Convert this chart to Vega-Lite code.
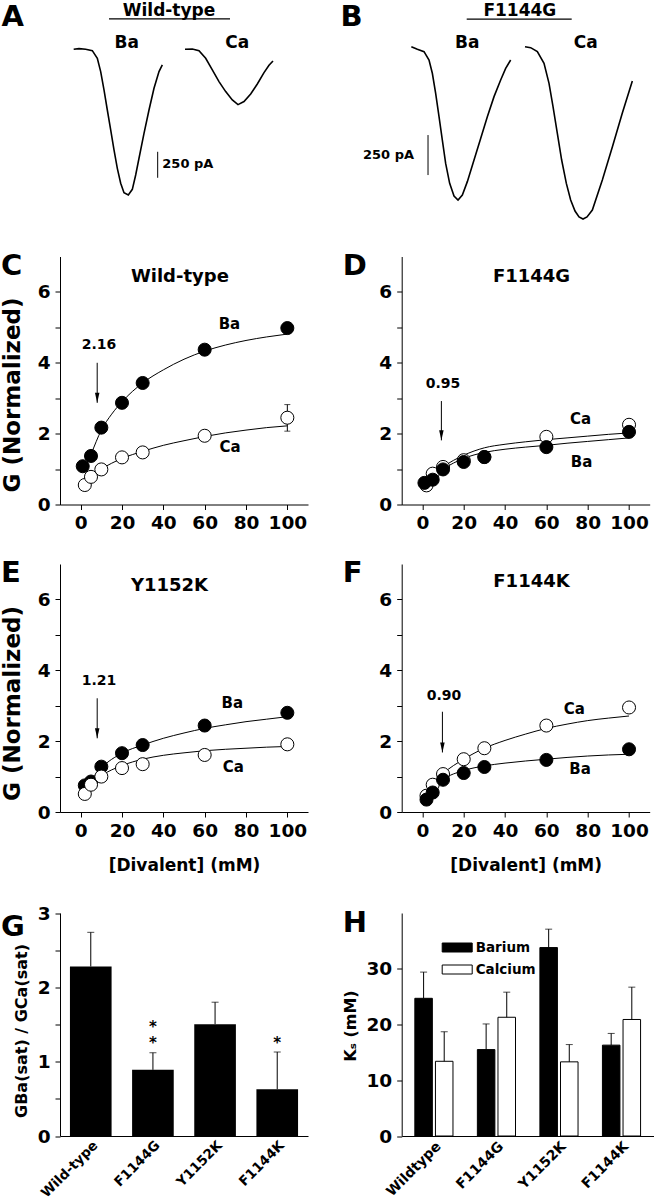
{
  "$schema": "https://vega.github.io/schema/vega-lite/v6.json",
  "background": "white",
  "padding": {"left": 1, "top": 0, "right": 0, "bottom": 0},
  "bounds": "flush",
  "align": "each",
  "columns": 2,
  "spacing": {"row": 59.5, "column": 93.7},
  "resolve": {"scale": {"fill": "independent"}, "legend": {"fill": "independent"}},
  "config": {
    "font": "DejaVu Sans",
    "view": {"stroke": null},
    "axis": {"labelFont": "DejaVu Sans", "titleFont": "DejaVu Sans", "labelFontWeight": "bold", "titleFontWeight": "bold", "labelColor": "black", "titleColor": "black", "domainColor": "black", "tickColor": "black", "labelFontSize": 18.5, "grid": false, "tickSize": 5, "domainWidth": 1, "tickWidth": 1},
    "title": {"font": "DejaVu Sans", "fontSize": 29, "fontWeight": "bold", "color": "black", "anchor": "start", "frame": "group", "offset": 0},
    "text": {"font": "DejaVu Sans", "fontWeight": "bold", "color": "black"}
  },
  "datasets": {
    "traces": [
      {"p": "A", "ion": "Ba", "t": 3.42, "i": -4}, {"p": "A", "ion": "Ba", "t": 4.75, "i": 2}, {"p": "A", "ion": "Ba", "t": 6.42, "i": -4}, {"p": "A", "ion": "Ba", "t": 8.08, "i": -17}, {"p": "A", "ion": "Ba", "t": 9.33, "i": -91}, {"p": "A", "ion": "Ba", "t": 10.17, "i": -219}, {"p": "A", "ion": "Ba", "t": 11.0, "i": -395}, {"p": "A", "ion": "Ba", "t": 11.83, "i": -588}, {"p": "A", "ion": "Ba", "t": 12.67, "i": -780}, {"p": "A", "ion": "Ba", "t": 13.5, "i": -972}, {"p": "A", "ion": "Ba", "t": 14.33, "i": -1149}, {"p": "A", "ion": "Ba", "t": 15.17, "i": -1293}, {"p": "A", "ion": "Ba", "t": 16.0, "i": -1383}, {"p": "A", "ion": "Ba", "t": 17.08, "i": -1405}, {"p": "A", "ion": "Ba", "t": 18.08, "i": -1351}, {"p": "A", "ion": "Ba", "t": 18.92, "i": -1213}, {"p": "A", "ion": "Ba", "t": 19.75, "i": -1052}, {"p": "A", "ion": "Ba", "t": 21.0, "i": -812}, {"p": "A", "ion": "Ba", "t": 22.25, "i": -588}, {"p": "A", "ion": "Ba", "t": 23.5, "i": -379}, {"p": "A", "ion": "Ba", "t": 24.75, "i": -219}, {"p": "A", "ion": "Ba", "t": 25.58, "i": -155},
      {"p": "A", "ion": "Ca", "t": 31.25, "i": -4}, {"p": "A", "ion": "Ca", "t": 33.08, "i": -1}, {"p": "A", "ion": "Ca", "t": 34.75, "i": -17}, {"p": "A", "ion": "Ca", "t": 36.42, "i": -91}, {"p": "A", "ion": "Ca", "t": 38.08, "i": -203}, {"p": "A", "ion": "Ca", "t": 39.75, "i": -315}, {"p": "A", "ion": "Ca", "t": 41.42, "i": -411}, {"p": "A", "ion": "Ca", "t": 43.08, "i": -491}, {"p": "A", "ion": "Ca", "t": 44.5, "i": -536}, {"p": "A", "ion": "Ca", "t": 46.0, "i": -507}, {"p": "A", "ion": "Ca", "t": 47.67, "i": -434}, {"p": "A", "ion": "Ca", "t": 49.33, "i": -338}, {"p": "A", "ion": "Ca", "t": 51.0, "i": -229}, {"p": "A", "ion": "Ca", "t": 52.25, "i": -158}, {"p": "A", "ion": "Ca", "t": 53.25, "i": -116},
      {"p": "B", "ion": "Ba", "t": 2.41, "i": 8}, {"p": "B", "ion": "Ba", "t": 3.91, "i": -8}, {"p": "B", "ion": "Ba", "t": 5.58, "i": -23}, {"p": "B", "ion": "Ba", "t": 6.83, "i": -75}, {"p": "B", "ion": "Ba", "t": 7.66, "i": -158}, {"p": "B", "ion": "Ba", "t": 8.49, "i": -283}, {"p": "B", "ion": "Ba", "t": 9.33, "i": -429}, {"p": "B", "ion": "Ba", "t": 10.16, "i": -575}, {"p": "B", "ion": "Ba", "t": 10.99, "i": -721}, {"p": "B", "ion": "Ba", "t": 11.99, "i": -846}, {"p": "B", "ion": "Ba", "t": 13.08, "i": -925}, {"p": "B", "ion": "Ba", "t": 14.08, "i": -950}, {"p": "B", "ion": "Ba", "t": 15.16, "i": -919}, {"p": "B", "ion": "Ba", "t": 16.41, "i": -835}, {"p": "B", "ion": "Ba", "t": 18.08, "i": -700}, {"p": "B", "ion": "Ba", "t": 19.74, "i": -565}, {"p": "B", "ion": "Ba", "t": 21.41, "i": -429}, {"p": "B", "ion": "Ba", "t": 23.08, "i": -304}, {"p": "B", "ion": "Ba", "t": 24.74, "i": -200}, {"p": "B", "ion": "Ba", "t": 25.99, "i": -127}, {"p": "B", "ion": "Ba", "t": 27.24, "i": -75},
      {"p": "B", "ion": "Ca", "t": 30.83, "i": 8}, {"p": "B", "ion": "Ca", "t": 32.24, "i": 2}, {"p": "B", "ion": "Ca", "t": 33.91, "i": -23}, {"p": "B", "ion": "Ca", "t": 35.58, "i": -96}, {"p": "B", "ion": "Ca", "t": 36.83, "i": -221}, {"p": "B", "ion": "Ca", "t": 37.83, "i": -367}, {"p": "B", "ion": "Ca", "t": 38.91, "i": -533}, {"p": "B", "ion": "Ca", "t": 39.99, "i": -700}, {"p": "B", "ion": "Ca", "t": 41.16, "i": -846}, {"p": "B", "ion": "Ca", "t": 42.24, "i": -950}, {"p": "B", "ion": "Ca", "t": 43.33, "i": -1019}, {"p": "B", "ion": "Ca", "t": 44.33, "i": -1056}, {"p": "B", "ion": "Ca", "t": 45.33, "i": -1069}, {"p": "B", "ion": "Ca", "t": 46.33, "i": -1056}, {"p": "B", "ion": "Ca", "t": 47.66, "i": -1013}, {"p": "B", "ion": "Ca", "t": 50.16, "i": -825}, {"p": "B", "ion": "Ca", "t": 52.66, "i": -619}, {"p": "B", "ion": "Ca", "t": 55.16, "i": -406}, {"p": "B", "ion": "Ca", "t": 57.66, "i": -206}
    ],
    "tx": [
      {"p": "A", "kind": "letter", "x": -11.8, "y": 310, "label": "A"},
      {"p": "A", "kind": "head", "x": 27.25, "y": 367, "label": "Wild-type"},
      {"p": "A", "kind": "ion", "x": 16.67, "y": 54, "label": "Ba"},
      {"p": "A", "kind": "ion", "x": 44.33, "y": 54, "label": "Ca"},
      {"p": "A", "kind": "scaleL", "x": 25.58, "y": -1110, "label": "250 pA"},
      {"p": "B", "kind": "letter", "x": -12.55, "y": 196, "label": "B"},
      {"p": "B", "kind": "head", "x": 29.53, "y": 231, "label": "F1144G"},
      {"p": "B", "kind": "ion", "x": 16.4, "y": 29, "label": "Ba"},
      {"p": "B", "kind": "ion", "x": 46.0, "y": 29, "label": "Ca"},
      {"p": "B", "kind": "scaleR", "x": 3.08, "y": -669, "label": "250 pA"}
    ],
    "hl": [
      {"p": "A", "x1": 12.25, "x2": 42.5, "y": 288},
      {"p": "B", "x1": 16.25, "x2": 42.5, "y": 181}
    ],
    "vl": [
      {"p": "A", "x": 24.42, "y1": -990, "y2": -1240},
      {"p": "B", "x": 6.58, "y1": -544, "y2": -794}
    ],
    "pts": [
      {"p": "C", "ion": "Ba", "conc": 1, "G": 1.08}, {"p": "C", "ion": "Ba", "conc": 5, "G": 1.37}, {"p": "C", "ion": "Ba", "conc": 10, "G": 2.17}, {"p": "C", "ion": "Ba", "conc": 20, "G": 2.87}, {"p": "C", "ion": "Ba", "conc": 30, "G": 3.43}, {"p": "C", "ion": "Ba", "conc": 60, "G": 4.37}, {"p": "C", "ion": "Ba", "conc": 100, "G": 4.98},
      {"p": "C", "ion": "Ca", "conc": 2, "G": 0.55}, {"p": "C", "ion": "Ca", "conc": 5, "G": 0.78}, {"p": "C", "ion": "Ca", "conc": 10, "G": 0.99}, {"p": "C", "ion": "Ca", "conc": 20, "G": 1.33}, {"p": "C", "ion": "Ca", "conc": 30, "G": 1.47}, {"p": "C", "ion": "Ca", "conc": 60, "G": 1.94}, {"p": "C", "ion": "Ca", "conc": 100, "G": 2.45},
      {"p": "D", "ion": "Ca", "conc": 2, "G": 0.54}, {"p": "D", "ion": "Ca", "conc": 5, "G": 0.87}, {"p": "D", "ion": "Ca", "conc": 10, "G": 1.06}, {"p": "D", "ion": "Ca", "conc": 20, "G": 1.25}, {"p": "D", "ion": "Ca", "conc": 30, "G": 1.34}, {"p": "D", "ion": "Ca", "conc": 60, "G": 1.91}, {"p": "D", "ion": "Ca", "conc": 100, "G": 2.25},
      {"p": "D", "ion": "Ba", "conc": 1, "G": 0.61}, {"p": "D", "ion": "Ba", "conc": 5, "G": 0.7}, {"p": "D", "ion": "Ba", "conc": 10, "G": 0.99}, {"p": "D", "ion": "Ba", "conc": 20, "G": 1.2}, {"p": "D", "ion": "Ba", "conc": 30, "G": 1.34}, {"p": "D", "ion": "Ba", "conc": 60, "G": 1.62}, {"p": "D", "ion": "Ba", "conc": 100, "G": 2.05},
      {"p": "E", "ion": "Ba", "conc": 2, "G": 0.75}, {"p": "E", "ion": "Ba", "conc": 5, "G": 0.86}, {"p": "E", "ion": "Ba", "conc": 10, "G": 1.28}, {"p": "E", "ion": "Ba", "conc": 20, "G": 1.66}, {"p": "E", "ion": "Ba", "conc": 30, "G": 1.89}, {"p": "E", "ion": "Ba", "conc": 60, "G": 2.44}, {"p": "E", "ion": "Ba", "conc": 100, "G": 2.8},
      {"p": "E", "ion": "Ca", "conc": 2, "G": 0.51}, {"p": "E", "ion": "Ca", "conc": 5, "G": 0.77}, {"p": "E", "ion": "Ca", "conc": 10, "G": 1.0}, {"p": "E", "ion": "Ca", "conc": 20, "G": 1.24}, {"p": "E", "ion": "Ca", "conc": 30, "G": 1.35}, {"p": "E", "ion": "Ca", "conc": 60, "G": 1.61}, {"p": "E", "ion": "Ca", "conc": 100, "G": 1.91},
      {"p": "F", "ion": "Ca", "conc": 2, "G": 0.46}, {"p": "F", "ion": "Ca", "conc": 5, "G": 0.77}, {"p": "F", "ion": "Ca", "conc": 10, "G": 1.07}, {"p": "F", "ion": "Ca", "conc": 20, "G": 1.49}, {"p": "F", "ion": "Ca", "conc": 30, "G": 1.8}, {"p": "F", "ion": "Ca", "conc": 60, "G": 2.44}, {"p": "F", "ion": "Ca", "conc": 100, "G": 2.95},
      {"p": "F", "ion": "Ba", "conc": 2, "G": 0.35}, {"p": "F", "ion": "Ba", "conc": 5, "G": 0.55}, {"p": "F", "ion": "Ba", "conc": 10, "G": 0.91}, {"p": "F", "ion": "Ba", "conc": 20, "G": 1.1}, {"p": "F", "ion": "Ba", "conc": 30, "G": 1.27}, {"p": "F", "ion": "Ba", "conc": 60, "G": 1.47}, {"p": "F", "ion": "Ba", "conc": 100, "G": 1.77}
    ],
    "fit": [
      {"p": "C", "ion": "Ba", "conc": 2, "G": 1.02}, {"p": "C", "ion": "Ba", "conc": 5, "G": 1.42}, {"p": "C", "ion": "Ba", "conc": 10, "G": 2.1}, {"p": "C", "ion": "Ba", "conc": 15, "G": 2.55}, {"p": "C", "ion": "Ba", "conc": 20, "G": 2.9}, {"p": "C", "ion": "Ba", "conc": 30, "G": 3.43}, {"p": "C", "ion": "Ba", "conc": 40, "G": 3.8}, {"p": "C", "ion": "Ba", "conc": 50, "G": 4.1}, {"p": "C", "ion": "Ba", "conc": 60, "G": 4.33}, {"p": "C", "ion": "Ba", "conc": 70, "G": 4.5}, {"p": "C", "ion": "Ba", "conc": 80, "G": 4.63}, {"p": "C", "ion": "Ba", "conc": 90, "G": 4.73}, {"p": "C", "ion": "Ba", "conc": 100, "G": 4.81},
      {"p": "C", "ion": "Ca", "conc": 2, "G": 0.6}, {"p": "C", "ion": "Ca", "conc": 5, "G": 0.8}, {"p": "C", "ion": "Ca", "conc": 10, "G": 1.0}, {"p": "C", "ion": "Ca", "conc": 20, "G": 1.3}, {"p": "C", "ion": "Ca", "conc": 30, "G": 1.5}, {"p": "C", "ion": "Ca", "conc": 40, "G": 1.67}, {"p": "C", "ion": "Ca", "conc": 50, "G": 1.8}, {"p": "C", "ion": "Ca", "conc": 60, "G": 1.92}, {"p": "C", "ion": "Ca", "conc": 70, "G": 2.02}, {"p": "C", "ion": "Ca", "conc": 80, "G": 2.1}, {"p": "C", "ion": "Ca", "conc": 90, "G": 2.17}, {"p": "C", "ion": "Ca", "conc": 100, "G": 2.22},
      {"p": "D", "ion": "Ca", "conc": 2, "G": 0.59}, {"p": "D", "ion": "Ca", "conc": 5, "G": 0.83}, {"p": "D", "ion": "Ca", "conc": 10, "G": 1.06}, {"p": "D", "ion": "Ca", "conc": 20, "G": 1.39}, {"p": "D", "ion": "Ca", "conc": 30, "G": 1.6}, {"p": "D", "ion": "Ca", "conc": 40, "G": 1.7}, {"p": "D", "ion": "Ca", "conc": 50, "G": 1.77}, {"p": "D", "ion": "Ca", "conc": 60, "G": 1.83}, {"p": "D", "ion": "Ca", "conc": 70, "G": 1.88}, {"p": "D", "ion": "Ca", "conc": 80, "G": 1.93}, {"p": "D", "ion": "Ca", "conc": 90, "G": 1.98}, {"p": "D", "ion": "Ca", "conc": 100, "G": 2.02},
      {"p": "D", "ion": "Ba", "conc": 2, "G": 0.55}, {"p": "D", "ion": "Ba", "conc": 5, "G": 0.75}, {"p": "D", "ion": "Ba", "conc": 10, "G": 0.99}, {"p": "D", "ion": "Ba", "conc": 20, "G": 1.3}, {"p": "D", "ion": "Ba", "conc": 30, "G": 1.47}, {"p": "D", "ion": "Ba", "conc": 40, "G": 1.56}, {"p": "D", "ion": "Ba", "conc": 50, "G": 1.62}, {"p": "D", "ion": "Ba", "conc": 60, "G": 1.67}, {"p": "D", "ion": "Ba", "conc": 70, "G": 1.73}, {"p": "D", "ion": "Ba", "conc": 80, "G": 1.78}, {"p": "D", "ion": "Ba", "conc": 90, "G": 1.83}, {"p": "D", "ion": "Ba", "conc": 100, "G": 1.88},
      {"p": "E", "ion": "Ba", "conc": 2, "G": 0.63}, {"p": "E", "ion": "Ba", "conc": 5, "G": 0.88}, {"p": "E", "ion": "Ba", "conc": 10, "G": 1.24}, {"p": "E", "ion": "Ba", "conc": 20, "G": 1.66}, {"p": "E", "ion": "Ba", "conc": 30, "G": 1.89}, {"p": "E", "ion": "Ba", "conc": 40, "G": 2.08}, {"p": "E", "ion": "Ba", "conc": 50, "G": 2.23}, {"p": "E", "ion": "Ba", "conc": 60, "G": 2.36}, {"p": "E", "ion": "Ba", "conc": 70, "G": 2.46}, {"p": "E", "ion": "Ba", "conc": 80, "G": 2.55}, {"p": "E", "ion": "Ba", "conc": 90, "G": 2.62}, {"p": "E", "ion": "Ba", "conc": 100, "G": 2.69},
      {"p": "E", "ion": "Ca", "conc": 2, "G": 0.51}, {"p": "E", "ion": "Ca", "conc": 5, "G": 0.77}, {"p": "E", "ion": "Ca", "conc": 10, "G": 1.02}, {"p": "E", "ion": "Ca", "conc": 20, "G": 1.31}, {"p": "E", "ion": "Ca", "conc": 30, "G": 1.49}, {"p": "E", "ion": "Ca", "conc": 40, "G": 1.6}, {"p": "E", "ion": "Ca", "conc": 50, "G": 1.67}, {"p": "E", "ion": "Ca", "conc": 60, "G": 1.73}, {"p": "E", "ion": "Ca", "conc": 70, "G": 1.77}, {"p": "E", "ion": "Ca", "conc": 80, "G": 1.8}, {"p": "E", "ion": "Ca", "conc": 90, "G": 1.83}, {"p": "E", "ion": "Ca", "conc": 100, "G": 1.85},
      {"p": "F", "ion": "Ca", "conc": 2, "G": 0.55}, {"p": "F", "ion": "Ca", "conc": 5, "G": 0.77}, {"p": "F", "ion": "Ca", "conc": 10, "G": 1.08}, {"p": "F", "ion": "Ca", "conc": 20, "G": 1.49}, {"p": "F", "ion": "Ca", "conc": 30, "G": 1.8}, {"p": "F", "ion": "Ca", "conc": 40, "G": 2.02}, {"p": "F", "ion": "Ca", "conc": 50, "G": 2.2}, {"p": "F", "ion": "Ca", "conc": 60, "G": 2.36}, {"p": "F", "ion": "Ca", "conc": 70, "G": 2.48}, {"p": "F", "ion": "Ca", "conc": 80, "G": 2.58}, {"p": "F", "ion": "Ca", "conc": 90, "G": 2.65}, {"p": "F", "ion": "Ca", "conc": 100, "G": 2.71},
      {"p": "F", "ion": "Ba", "conc": 2, "G": 0.42}, {"p": "F", "ion": "Ba", "conc": 5, "G": 0.63}, {"p": "F", "ion": "Ba", "conc": 10, "G": 0.91}, {"p": "F", "ion": "Ba", "conc": 20, "G": 1.17}, {"p": "F", "ion": "Ba", "conc": 30, "G": 1.3}, {"p": "F", "ion": "Ba", "conc": 40, "G": 1.38}, {"p": "F", "ion": "Ba", "conc": 50, "G": 1.44}, {"p": "F", "ion": "Ba", "conc": 60, "G": 1.49}, {"p": "F", "ion": "Ba", "conc": 70, "G": 1.54}, {"p": "F", "ion": "Ba", "conc": 80, "G": 1.58}, {"p": "F", "ion": "Ba", "conc": 90, "G": 1.61}, {"p": "F", "ion": "Ba", "conc": 100, "G": 1.63}
    ],
    "ann": [
      {"p": "C", "kind": "title", "x": 48, "y": 6.42, "label": "Wild-type"}, {"p": "C", "kind": "ion", "x": 72, "y": 5.09, "label": "Ba"}, {"p": "C", "kind": "ion", "x": 72.3, "y": 1.61, "label": "Ca"}, {"p": "C", "kind": "num", "x": 8.9, "y": 4.5, "label": "2.16"},
      {"p": "D", "kind": "title", "x": 52.8, "y": 6.41, "label": "F1144G"}, {"p": "D", "kind": "ion", "x": 76.6, "y": 2.42, "label": "Ca"}, {"p": "D", "kind": "ion", "x": 77, "y": 1.2, "label": "Ba"}, {"p": "D", "kind": "num", "x": 10, "y": 3.41, "label": "0.95"},
      {"p": "E", "kind": "title", "x": 43, "y": 6.39, "label": "Y1152K"}, {"p": "E", "kind": "ion", "x": 73.4, "y": 3.07, "label": "Ba"}, {"p": "E", "kind": "ion", "x": 73.9, "y": 1.27, "label": "Ca"}, {"p": "E", "kind": "num", "x": 8.9, "y": 3.7, "label": "1.21"},
      {"p": "F", "kind": "title", "x": 52.8, "y": 6.49, "label": "F1144K"}, {"p": "F", "kind": "ion", "x": 73.5, "y": 2.9, "label": "Ca"}, {"p": "F", "kind": "ion", "x": 76.3, "y": 1.21, "label": "Ba"}, {"p": "F", "kind": "num", "x": 10.5, "y": 3.28, "label": "0.90"}
    ],
    "arr": [
      {"p": "C", "x": 8, "y1": 4.0, "y2": 2.87},
      {"p": "D", "x": 9.2, "y1": 2.92, "y2": 1.81},
      {"p": "E", "x": 8, "y1": 3.21, "y2": 2.08},
      {"p": "F", "x": 9.7, "y1": 2.83, "y2": 1.68}
    ],
    "err": [{"p": "C", "conc": 100, "lo": 2.07, "hi": 2.82}],
    "ratio": [
      {"mutant": "Wild-type", "r": 2.28, "hi": 2.74},
      {"mutant": "F1144G", "r": 0.89, "hi": 1.12},
      {"mutant": "Y1152K", "r": 1.505, "hi": 1.8},
      {"mutant": "F1144K", "r": 0.63, "hi": 1.13}
    ],
    "stars": [
      {"mutant": "F1144G", "y": 1.47}, {"mutant": "F1144G", "y": 1.25}, {"mutant": "F1144K", "y": 1.25}
    ],
    "ks": [
      {"mutant": "Wildtype", "ion": "Barium", "k": 24.7, "hi": 29.4}, {"mutant": "Wildtype", "ion": "Calcium", "k": 13.4, "hi": 18.7},
      {"mutant": "F1144G", "ion": "Barium", "k": 15.5, "hi": 20.1}, {"mutant": "F1144G", "ion": "Calcium", "k": 21.3, "hi": 25.8},
      {"mutant": "Y1152K", "ion": "Barium", "k": 33.8, "hi": 37.1}, {"mutant": "Y1152K", "ion": "Calcium", "k": 13.3, "hi": 16.4},
      {"mutant": "F1144K", "ion": "Barium", "k": 16.3, "hi": 18.4}, {"mutant": "F1144K", "ion": "Calcium", "k": 20.9, "hi": 26.7}
    ]
  },
  "concat": [
    {
      "width": 248, "height": 196.5,
      "layer": [
        {"data": {"name": "traces"}, "transform": [{"filter": "datum.p === 'A'"}], "mark": {"type": "line", "color": "black", "strokeWidth": 1.6}, "encoding": {"x": {"field": "t", "type": "quantitative", "scale": {"domain": [0, 62], "nice": false, "zero": false}, "axis": null}, "y": {"field": "i", "type": "quantitative", "scale": {"domain": [-1420, 470], "nice": false, "zero": false}, "axis": null}, "detail": {"field": "ion"}}},
        {"data": {"name": "vl"}, "transform": [{"filter": "datum.p === 'A'"}], "mark": {"type": "rule", "color": "black", "strokeWidth": 1}, "encoding": {"x": {"field": "x", "type": "quantitative"}, "y": {"field": "y1", "type": "quantitative"}, "y2": {"field": "y2"}}},
        {"data": {"name": "hl"}, "transform": [{"filter": "datum.p === 'A'"}], "mark": {"type": "rule", "color": "black", "strokeWidth": 1.2}, "encoding": {"x": {"field": "x1", "type": "quantitative"}, "x2": {"field": "x2"}, "y": {"field": "y", "type": "quantitative"}}},
        {"data": {"name": "tx"}, "transform": [{"filter": "datum.p === 'A' && datum.kind === 'letter'"}], "mark": {"type": "text", "fontSize": 29}, "encoding": {"x": {"field": "x", "type": "quantitative"}, "y": {"field": "y", "type": "quantitative"}, "text": {"field": "label"}}},
        {"data": {"name": "tx"}, "transform": [{"filter": "datum.p === 'A' && (datum.kind === 'head' || datum.kind === 'ion')"}], "mark": {"type": "text", "fontSize": 17}, "encoding": {"x": {"field": "x", "type": "quantitative"}, "y": {"field": "y", "type": "quantitative"}, "text": {"field": "label"}}},
        {"data": {"name": "tx"}, "transform": [{"filter": "datum.p === 'A' && datum.kind === 'scaleL'"}], "mark": {"type": "text", "fontSize": 13, "align": "left"}, "encoding": {"x": {"field": "x", "type": "quantitative"}, "y": {"field": "y", "type": "quantitative"}, "text": {"field": "label"}}}
      ]
    },
    {
      "width": 248, "height": 196.5,
      "layer": [
        {"data": {"name": "traces"}, "transform": [{"filter": "datum.p === 'B'"}], "mark": {"type": "line", "color": "black", "strokeWidth": 1.6}, "encoding": {"x": {"field": "t", "type": "quantitative", "scale": {"domain": [0, 62], "nice": false, "zero": false}, "axis": null}, "y": {"field": "i", "type": "quantitative", "scale": {"domain": [-928, 300], "nice": false, "zero": false}, "axis": null}, "detail": {"field": "ion"}}},
        {"data": {"name": "vl"}, "transform": [{"filter": "datum.p === 'B'"}], "mark": {"type": "rule", "color": "black", "strokeWidth": 1}, "encoding": {"x": {"field": "x", "type": "quantitative"}, "y": {"field": "y1", "type": "quantitative"}, "y2": {"field": "y2"}}},
        {"data": {"name": "hl"}, "transform": [{"filter": "datum.p === 'B'"}], "mark": {"type": "rule", "color": "black", "strokeWidth": 1.2}, "encoding": {"x": {"field": "x1", "type": "quantitative"}, "x2": {"field": "x2"}, "y": {"field": "y", "type": "quantitative"}}},
        {"data": {"name": "tx"}, "transform": [{"filter": "datum.p === 'B' && datum.kind === 'letter'"}], "mark": {"type": "text", "fontSize": 29}, "encoding": {"x": {"field": "x", "type": "quantitative"}, "y": {"field": "y", "type": "quantitative"}, "text": {"field": "label"}}},
        {"data": {"name": "tx"}, "transform": [{"filter": "datum.p === 'B' && (datum.kind === 'head' || datum.kind === 'ion')"}], "mark": {"type": "text", "fontSize": 17}, "encoding": {"x": {"field": "x", "type": "quantitative"}, "y": {"field": "y", "type": "quantitative"}, "text": {"field": "label"}}},
        {"data": {"name": "tx"}, "transform": [{"filter": "datum.p === 'B' && datum.kind === 'scaleR'"}], "mark": {"type": "text", "fontSize": 13, "align": "right"}, "encoding": {"x": {"field": "x", "type": "quantitative"}, "y": {"field": "y", "type": "quantitative"}, "text": {"field": "label"}}}
      ]
    },
    {
      "width": 248, "height": 248,
      "title": {"text": "C", "dx": -59, "dy": 28},
      "layer": [
        {"data": {"name": "fit"}, "transform": [{"filter": "datum.p === 'C'"}], "mark": {"type": "line", "interpolate": "monotone", "color": "black", "strokeWidth": 1}, "encoding": {
          "x": {"field": "conc", "type": "quantitative", "scale": {"domain": [-10, 110], "nice": false, "zero": false}, "axis": {"values": [0, 10, 20, 30, 40, 50, 60, 70, 80, 90, 100], "labelExpr": "datum.value % 20 === 0 ? datum.label : ''", "title": null, "labelFlush": false, "labelOverlap": false, "labelPadding": 4}},
          "y": {"field": "G", "type": "quantitative", "scale": {"domain": [0, 7], "nice": false}, "axis": {"values": [0, 1, 2, 3, 4, 5, 6], "labelExpr": "datum.value % 2 === 0 ? datum.label : ''", "labelOverlap": false, "labelPadding": 5, "title": "G (Normalized)", "titleFontSize": 23, "titleX": -40.5, "titleY": 138, "titleBaseline": "alphabetic", "titleAngle": -90, "titleAlign": "center"}},
          "detail": {"field": "ion"}}},
        {"data": {"name": "err"}, "transform": [{"filter": "datum.p === 'C'"}], "mark": {"type": "rule", "color": "black", "strokeWidth": 1}, "encoding": {"x": {"field": "conc", "type": "quantitative"}, "y": {"field": "lo", "type": "quantitative"}, "y2": {"field": "hi"}}},
        {"data": {"name": "err"}, "transform": [{"filter": "datum.p === 'C'"}], "mark": {"type": "tick", "orient": "horizontal", "color": "black", "size": 6, "thickness": 1}, "encoding": {"x": {"field": "conc", "type": "quantitative"}, "y": {"field": "lo", "type": "quantitative"}}},
        {"data": {"name": "err"}, "transform": [{"filter": "datum.p === 'C'"}], "mark": {"type": "tick", "orient": "horizontal", "color": "black", "size": 6, "thickness": 1}, "encoding": {"x": {"field": "conc", "type": "quantitative"}, "y": {"field": "hi", "type": "quantitative"}}},
        {"data": {"name": "pts"}, "transform": [{"filter": "datum.p === 'C'"}], "mark": {"type": "point", "shape": "circle", "size": 170, "filled": true, "stroke": "black", "strokeWidth": 1, "opacity": 1}, "encoding": {"x": {"field": "conc", "type": "quantitative"}, "y": {"field": "G", "type": "quantitative"}, "fill": {"field": "ion", "type": "nominal", "scale": {"domain": ["Ba", "Ca"], "range": ["black", "white"]}, "legend": null}}},
        {"data": {"name": "arr"}, "transform": [{"filter": "datum.p === 'C'"}], "mark": {"type": "rule", "color": "black", "strokeWidth": 1}, "encoding": {"x": {"field": "x", "type": "quantitative"}, "y": {"field": "y1", "type": "quantitative"}, "y2": {"field": "y2"}}},
        {"data": {"name": "arr"}, "transform": [{"filter": "datum.p === 'C'"}], "mark": {"type": "point", "shape": "M-0.45,-2L0,0L0.45,-2Z", "size": 100, "filled": true, "color": "black", "opacity": 1}, "encoding": {"x": {"field": "x", "type": "quantitative"}, "y": {"field": "y2", "type": "quantitative"}}},
        {"data": {"name": "ann"}, "transform": [{"filter": "datum.p === 'C' && datum.kind === 'title'"}], "mark": {"type": "text", "fontSize": 18}, "encoding": {"x": {"field": "x", "type": "quantitative"}, "y": {"field": "y", "type": "quantitative"}, "text": {"field": "label"}}},
        {"data": {"name": "ann"}, "transform": [{"filter": "datum.p === 'C' && datum.kind === 'ion'"}], "mark": {"type": "text", "fontSize": 15}, "encoding": {"x": {"field": "x", "type": "quantitative"}, "y": {"field": "y", "type": "quantitative"}, "text": {"field": "label"}}},
        {"data": {"name": "ann"}, "transform": [{"filter": "datum.p === 'C' && datum.kind === 'num'"}], "mark": {"type": "text", "fontSize": 14}, "encoding": {"x": {"field": "x", "type": "quantitative"}, "y": {"field": "y", "type": "quantitative"}, "text": {"field": "label"}}}
      ]
    },
    {
      "width": 248, "height": 248,
      "title": {"text": "D", "dx": -59, "dy": 28},
      "layer": [
        {"data": {"name": "fit"}, "transform": [{"filter": "datum.p === 'D'"}], "mark": {"type": "line", "interpolate": "monotone", "color": "black", "strokeWidth": 1}, "encoding": {
          "x": {"field": "conc", "type": "quantitative", "scale": {"domain": [-10, 110], "nice": false, "zero": false}, "axis": {"values": [0, 10, 20, 30, 40, 50, 60, 70, 80, 90, 100], "labelExpr": "datum.value % 20 === 0 ? datum.label : ''", "title": null, "labelFlush": false, "labelOverlap": false, "labelPadding": 4}},
          "y": {"field": "G", "type": "quantitative", "scale": {"domain": [0, 7], "nice": false}, "axis": {"values": [0, 1, 2, 3, 4, 5, 6], "labelExpr": "datum.value % 2 === 0 ? datum.label : ''", "labelOverlap": false, "labelPadding": 5, "title": null}},
          "detail": {"field": "ion"}}},
        {"data": {"name": "pts"}, "transform": [{"filter": "datum.p === 'D'"}], "mark": {"type": "point", "shape": "circle", "size": 170, "filled": true, "stroke": "black", "strokeWidth": 1, "opacity": 1}, "encoding": {"x": {"field": "conc", "type": "quantitative"}, "y": {"field": "G", "type": "quantitative"}, "fill": {"field": "ion", "type": "nominal", "scale": {"domain": ["Ba", "Ca"], "range": ["black", "white"]}, "legend": null}}},
        {"data": {"name": "arr"}, "transform": [{"filter": "datum.p === 'D'"}], "mark": {"type": "rule", "color": "black", "strokeWidth": 1}, "encoding": {"x": {"field": "x", "type": "quantitative"}, "y": {"field": "y1", "type": "quantitative"}, "y2": {"field": "y2"}}},
        {"data": {"name": "arr"}, "transform": [{"filter": "datum.p === 'D'"}], "mark": {"type": "point", "shape": "M-0.45,-2L0,0L0.45,-2Z", "size": 100, "filled": true, "color": "black", "opacity": 1}, "encoding": {"x": {"field": "x", "type": "quantitative"}, "y": {"field": "y2", "type": "quantitative"}}},
        {"data": {"name": "ann"}, "transform": [{"filter": "datum.p === 'D' && datum.kind === 'title'"}], "mark": {"type": "text", "fontSize": 18}, "encoding": {"x": {"field": "x", "type": "quantitative"}, "y": {"field": "y", "type": "quantitative"}, "text": {"field": "label"}}},
        {"data": {"name": "ann"}, "transform": [{"filter": "datum.p === 'D' && datum.kind === 'ion'"}], "mark": {"type": "text", "fontSize": 15}, "encoding": {"x": {"field": "x", "type": "quantitative"}, "y": {"field": "y", "type": "quantitative"}, "text": {"field": "label"}}},
        {"data": {"name": "ann"}, "transform": [{"filter": "datum.p === 'D' && datum.kind === 'num'"}], "mark": {"type": "text", "fontSize": 14}, "encoding": {"x": {"field": "x", "type": "quantitative"}, "y": {"field": "y", "type": "quantitative"}, "text": {"field": "label"}}}
      ]
    },
    {
      "width": 248, "height": 248,
      "title": {"text": "E", "dx": -59, "dy": 28},
      "layer": [
        {"data": {"name": "fit"}, "transform": [{"filter": "datum.p === 'E'"}], "mark": {"type": "line", "interpolate": "monotone", "color": "black", "strokeWidth": 1}, "encoding": {
          "x": {"field": "conc", "type": "quantitative", "scale": {"domain": [-10, 110], "nice": false, "zero": false}, "axis": {"values": [0, 10, 20, 30, 40, 50, 60, 70, 80, 90, 100], "labelExpr": "datum.value % 20 === 0 ? datum.label : ''", "title": "[Divalent] (mM)", "titleFontSize": 17, "titlePadding": 18, "labelFlush": false, "labelOverlap": false, "labelPadding": 4}},
          "y": {"field": "G", "type": "quantitative", "scale": {"domain": [0, 7], "nice": false}, "axis": {"values": [0, 1, 2, 3, 4, 5, 6], "labelExpr": "datum.value % 2 === 0 ? datum.label : ''", "labelOverlap": false, "labelPadding": 5, "title": "G (Normalized)", "titleFontSize": 23, "titleX": -40.5, "titleY": 139, "titleBaseline": "alphabetic", "titleAngle": -90, "titleAlign": "center"}},
          "detail": {"field": "ion"}}},
        {"data": {"name": "pts"}, "transform": [{"filter": "datum.p === 'E'"}], "mark": {"type": "point", "shape": "circle", "size": 170, "filled": true, "stroke": "black", "strokeWidth": 1, "opacity": 1}, "encoding": {"x": {"field": "conc", "type": "quantitative"}, "y": {"field": "G", "type": "quantitative"}, "fill": {"field": "ion", "type": "nominal", "scale": {"domain": ["Ba", "Ca"], "range": ["black", "white"]}, "legend": null}}},
        {"data": {"name": "arr"}, "transform": [{"filter": "datum.p === 'E'"}], "mark": {"type": "rule", "color": "black", "strokeWidth": 1}, "encoding": {"x": {"field": "x", "type": "quantitative"}, "y": {"field": "y1", "type": "quantitative"}, "y2": {"field": "y2"}}},
        {"data": {"name": "arr"}, "transform": [{"filter": "datum.p === 'E'"}], "mark": {"type": "point", "shape": "M-0.45,-2L0,0L0.45,-2Z", "size": 100, "filled": true, "color": "black", "opacity": 1}, "encoding": {"x": {"field": "x", "type": "quantitative"}, "y": {"field": "y2", "type": "quantitative"}}},
        {"data": {"name": "ann"}, "transform": [{"filter": "datum.p === 'E' && datum.kind === 'title'"}], "mark": {"type": "text", "fontSize": 18}, "encoding": {"x": {"field": "x", "type": "quantitative"}, "y": {"field": "y", "type": "quantitative"}, "text": {"field": "label"}}},
        {"data": {"name": "ann"}, "transform": [{"filter": "datum.p === 'E' && datum.kind === 'ion'"}], "mark": {"type": "text", "fontSize": 15}, "encoding": {"x": {"field": "x", "type": "quantitative"}, "y": {"field": "y", "type": "quantitative"}, "text": {"field": "label"}}},
        {"data": {"name": "ann"}, "transform": [{"filter": "datum.p === 'E' && datum.kind === 'num'"}], "mark": {"type": "text", "fontSize": 14}, "encoding": {"x": {"field": "x", "type": "quantitative"}, "y": {"field": "y", "type": "quantitative"}, "text": {"field": "label"}}}
      ]
    },
    {
      "width": 248, "height": 248,
      "title": {"text": "F", "dx": -59, "dy": 28},
      "layer": [
        {"data": {"name": "fit"}, "transform": [{"filter": "datum.p === 'F'"}], "mark": {"type": "line", "interpolate": "monotone", "color": "black", "strokeWidth": 1}, "encoding": {
          "x": {"field": "conc", "type": "quantitative", "scale": {"domain": [-10, 110], "nice": false, "zero": false}, "axis": {"values": [0, 10, 20, 30, 40, 50, 60, 70, 80, 90, 100], "labelExpr": "datum.value % 20 === 0 ? datum.label : ''", "title": "[Divalent] (mM)", "titleFontSize": 17, "titlePadding": 18, "labelFlush": false, "labelOverlap": false, "labelPadding": 4}},
          "y": {"field": "G", "type": "quantitative", "scale": {"domain": [0, 7], "nice": false}, "axis": {"values": [0, 1, 2, 3, 4, 5, 6], "labelExpr": "datum.value % 2 === 0 ? datum.label : ''", "labelOverlap": false, "labelPadding": 5, "title": null}},
          "detail": {"field": "ion"}}},
        {"data": {"name": "pts"}, "transform": [{"filter": "datum.p === 'F'"}], "mark": {"type": "point", "shape": "circle", "size": 170, "filled": true, "stroke": "black", "strokeWidth": 1, "opacity": 1}, "encoding": {"x": {"field": "conc", "type": "quantitative"}, "y": {"field": "G", "type": "quantitative"}, "fill": {"field": "ion", "type": "nominal", "scale": {"domain": ["Ba", "Ca"], "range": ["black", "white"]}, "legend": null}}},
        {"data": {"name": "arr"}, "transform": [{"filter": "datum.p === 'F'"}], "mark": {"type": "rule", "color": "black", "strokeWidth": 1}, "encoding": {"x": {"field": "x", "type": "quantitative"}, "y": {"field": "y1", "type": "quantitative"}, "y2": {"field": "y2"}}},
        {"data": {"name": "arr"}, "transform": [{"filter": "datum.p === 'F'"}], "mark": {"type": "point", "shape": "M-0.45,-2L0,0L0.45,-2Z", "size": 100, "filled": true, "color": "black", "opacity": 1}, "encoding": {"x": {"field": "x", "type": "quantitative"}, "y": {"field": "y2", "type": "quantitative"}}},
        {"data": {"name": "ann"}, "transform": [{"filter": "datum.p === 'F' && datum.kind === 'title'"}], "mark": {"type": "text", "fontSize": 18}, "encoding": {"x": {"field": "x", "type": "quantitative"}, "y": {"field": "y", "type": "quantitative"}, "text": {"field": "label"}}},
        {"data": {"name": "ann"}, "transform": [{"filter": "datum.p === 'F' && datum.kind === 'ion'"}], "mark": {"type": "text", "fontSize": 15}, "encoding": {"x": {"field": "x", "type": "quantitative"}, "y": {"field": "y", "type": "quantitative"}, "text": {"field": "label"}}},
        {"data": {"name": "ann"}, "transform": [{"filter": "datum.p === 'F' && datum.kind === 'num'"}], "mark": {"type": "text", "fontSize": 14}, "encoding": {"x": {"field": "x", "type": "quantitative"}, "y": {"field": "y", "type": "quantitative"}, "text": {"field": "label"}}}
      ]
    },
    {
      "width": 248, "height": 264.5,
      "title": {"text": "G", "dx": -59, "dy": 74},
      "layer": [
        {"data": {"name": "ratio"}, "mark": {"type": "bar", "color": "black"}, "encoding": {
          "x": {"field": "mutant", "type": "nominal", "sort": null, "scale": {"domain": ["Wild-type", "F1144G", "Y1152K", "F1144K"], "paddingInner": 0.33, "paddingOuter": 0.16}, "axis": {"title": null, "labelAngle": -45, "ticks": false, "labelFontSize": 13.5, "labelPadding": 2}},
          "y": {"field": "r", "type": "quantitative", "scale": {"domain": [0, 3], "range": [264.5, 41.5], "nice": false}, "axis": {"values": [0, 0.5, 1, 1.5, 2, 2.5, 3], "labelExpr": "datum.value % 1 === 0 ? format(datum.value, 'd') : ''", "labelOverlap": false, "labelPadding": 5, "title": "GBa(sat) / GCa(sat)", "titleFontSize": 16, "titleX": -34, "titleY": 159, "titleBaseline": "alphabetic", "titleAngle": -90, "titleAlign": "center"}}}},
        {"data": {"name": "ratio"}, "mark": {"type": "rule", "color": "black", "strokeWidth": 1}, "encoding": {"x": {"field": "mutant", "type": "nominal", "sort": null}, "y": {"field": "r", "type": "quantitative"}, "y2": {"field": "hi"}}},
        {"data": {"name": "ratio"}, "mark": {"type": "tick", "color": "black", "size": 7, "thickness": 1}, "encoding": {"x": {"field": "mutant", "type": "nominal", "sort": null}, "y": {"field": "hi", "type": "quantitative"}}},
        {"data": {"name": "stars"}, "mark": {"type": "text", "fontSize": 15, "text": "*"}, "encoding": {"x": {"field": "mutant", "type": "nominal", "sort": null}, "y": {"field": "y", "type": "quantitative"}}}
      ]
    },
    {
      "width": 252, "height": 264.5,
      "title": {"text": "H", "dx": -59, "dy": 70},
      "data": {"name": "ks"},
      "layer": [
        {"mark": {"type": "bar", "stroke": "black", "strokeWidth": 1}, "encoding": {
          "x": {"field": "mutant", "type": "nominal", "sort": null, "scale": {"domain": ["Wildtype", "F1144G", "Y1152K", "F1144K"], "paddingInner": 0.39, "paddingOuter": 0.21}, "axis": {"title": null, "labelAngle": -45, "ticks": false, "labelFontSize": 14, "labelPadding": 3}},
          "xOffset": {"field": "ion", "type": "nominal", "scale": {"domain": ["Barium", "Calcium"], "paddingInner": 0.15}},
          "y": {"field": "k", "type": "quantitative", "scale": {"domain": [0, 40], "range": [264.5, 41.5], "nice": false}, "axis": {"values": [0, 5, 10, 15, 20, 25, 30, 35], "labelExpr": "datum.value % 10 === 0 ? datum.label : ''", "labelOverlap": false, "labelPadding": 5, "title": "Kₛ (mM)", "titleFontSize": 16, "titleX": -46.7, "titleY": 154, "titleBaseline": "alphabetic", "titleAngle": -90, "titleAlign": "center"}},
          "fill": {"field": "ion", "type": "nominal", "scale": {"domain": ["Barium", "Calcium"], "range": ["black", "white"]}, "legend": {"title": null, "orient": "none", "legendX": 40, "legendY": 60.5, "symbolType": "M-1,-0.3H1V0.3H-1Z", "symbolSize": 900, "symbolStrokeColor": "black", "symbolStrokeWidth": 1, "labelFont": "DejaVu Sans", "labelFontSize": 13.5, "labelFontWeight": "bold", "labelColor": "black", "labelOffset": 3, "rowPadding": -14, "padding": 0}}}},
        {"mark": {"type": "rule", "color": "black", "strokeWidth": 1}, "encoding": {"x": {"field": "mutant", "type": "nominal", "sort": null}, "xOffset": {"field": "ion", "type": "nominal"}, "y": {"field": "k", "type": "quantitative"}, "y2": {"field": "hi"}}},
        {"mark": {"type": "tick", "color": "black", "size": 7, "thickness": 1}, "encoding": {"x": {"field": "mutant", "type": "nominal", "sort": null}, "xOffset": {"field": "ion", "type": "nominal"}, "y": {"field": "hi", "type": "quantitative"}}}
      ]
    }
  ]
}
